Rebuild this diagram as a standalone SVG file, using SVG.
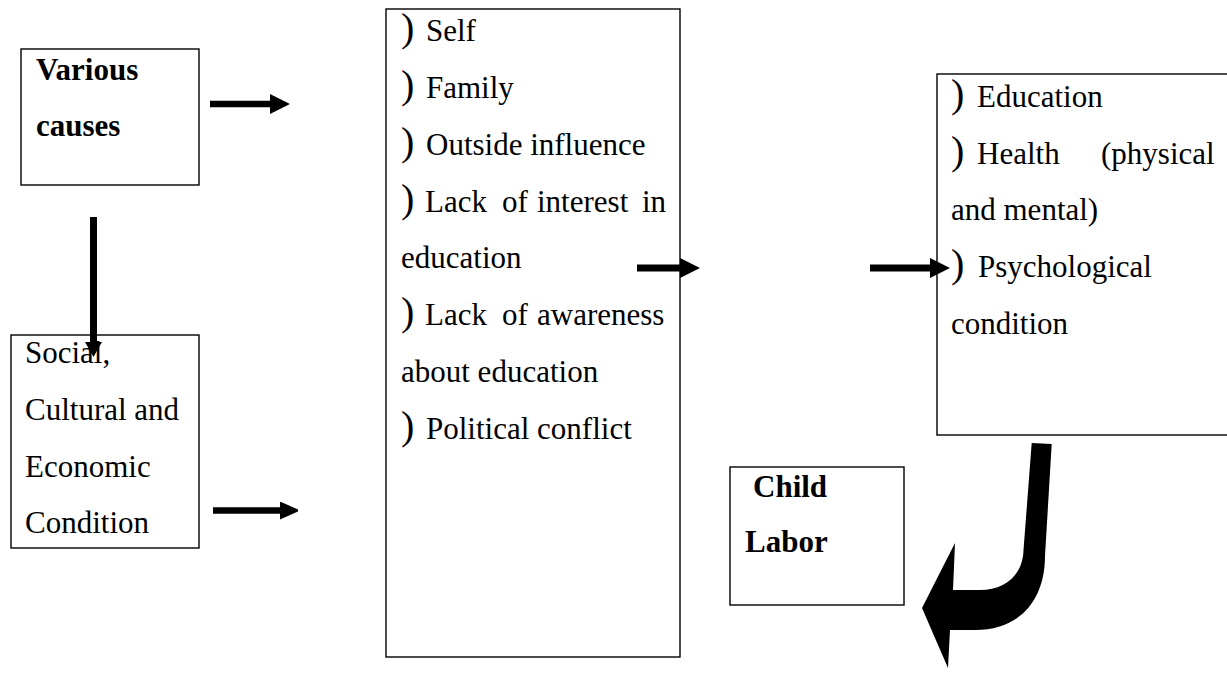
<svg xmlns="http://www.w3.org/2000/svg" width="1227" height="677" viewBox="0 0 1227 677">
<style>
.box{fill:#fff;stroke:#000;stroke-width:1.4}
.t{font-family:"Liberation Serif","Times New Roman",serif;font-size:31px;fill:#000}
.b{font-weight:bold}
.bul{font-family:"Liberation Serif","Times New Roman",serif;font-size:40px;fill:#000}
.ln{stroke:#000;fill:none}
</style>
<defs>
<marker id="h20" markerUnits="userSpaceOnUse" markerWidth="20" markerHeight="20" refX="0" refY="10" orient="auto" viewBox="0 0 20 20"><path d="M0,0 L20,10 L0,20 Z" fill="#000"/></marker>
<marker id="h18" markerUnits="userSpaceOnUse" markerWidth="18" markerHeight="18" refX="0" refY="9" orient="auto" viewBox="0 0 18 18"><path d="M0,0 L20,9 L0,18 Z" fill="#000"/></marker>
<marker id="hv" markerUnits="userSpaceOnUse" markerWidth="15" markerHeight="17" refX="0" refY="8.5" orient="auto" viewBox="0 0 15 17"><path d="M0,0 L15,8.5 L0,17 Z" fill="#000"/></marker>
</defs>

<g id="node-various-causes">
<rect class="box" x="21" y="49" width="178" height="136"/>
<text class="t b" x="36" y="80">Various</text>
<text class="t b" x="36" y="136">causes</text>
</g>

<g id="node-social">
<rect class="box" x="11" y="335" width="188" height="213"/>
<text class="t" x="25" y="363">Social,</text>
<text class="t" x="25" y="420">Cultural and</text>
<text class="t" x="25" y="477">Economic</text>
<text class="t" x="25" y="533">Condition</text>
</g>

<g id="node-factors">
<rect class="box" x="386" y="9" width="294" height="648"/>
<text class="bul" x="401" y="41">)</text><text class="t" x="426" y="41">Self</text>
<text class="bul" x="401" y="98">)</text><text class="t" x="426" y="98">Family</text>
<text class="bul" x="401" y="155">)</text><text class="t" x="426" y="155">Outside influence</text>
<text class="bul" x="401" y="212">)</text><text class="t" y="212"><tspan x="425">Lack</tspan><tspan x="502">of</tspan><tspan x="537">interest</tspan><tspan x="642">in</tspan></text>
<text class="t" x="401" y="268">education</text>
<text class="bul" x="401" y="325">)</text><text class="t" y="325"><tspan x="425">Lack</tspan><tspan x="502">of</tspan><tspan x="537">awareness</tspan></text>
<text class="t" x="401" y="382">about education</text>
<text class="bul" x="401" y="439">)</text><text class="t" x="426" y="439">Political conflict</text>
</g>

<g id="node-effects">
<rect class="box" x="937" y="74" width="300" height="361"/>
<text class="bul" x="951" y="107">)</text><text class="t" x="977" y="107">Education</text>
<text class="bul" x="951" y="164">)</text><text class="t" y="164"><tspan x="977">Health</tspan><tspan x="1101">(physical</tspan></text>
<text class="t" x="951" y="220">and mental)</text>
<text class="bul" x="951" y="277">)</text><text class="t" x="978" y="277">Psychological</text>
<text class="t" x="951" y="334">condition</text>
</g>

<g id="node-child-labor">
<rect class="box" x="730" y="467" width="174" height="138"/>
<text class="t b" x="753" y="497">Child</text>
<text class="t b" x="745" y="552">Labor</text>
</g>

<g id="connectors">
<line class="ln" x1="210" y1="104" x2="270" y2="104" stroke-width="6.5" marker-end="url(#h20)"/>
<line class="ln" x1="93.5" y1="217" x2="93.5" y2="342" stroke-width="7" marker-end="url(#hv)"/>
<line class="ln" x1="213" y1="510.5" x2="280" y2="510.5" stroke-width="6.5" marker-end="url(#h18)"/>
<line class="ln" x1="637" y1="268" x2="680" y2="268" stroke-width="7" marker-end="url(#h20)"/>
<line class="ln" x1="870" y1="268" x2="930" y2="268" stroke-width="7" marker-end="url(#h20)"/>
<path d="M1031.7,443 L1051.7,444 L1045,556 C1045,600 1020,630 975,630 L950,630 L948,668 L922,608 L955,543 L953,590 L980,590 C1005,590 1023,575 1023.5,550 Z" fill="#000"/>
</g>
</svg>
